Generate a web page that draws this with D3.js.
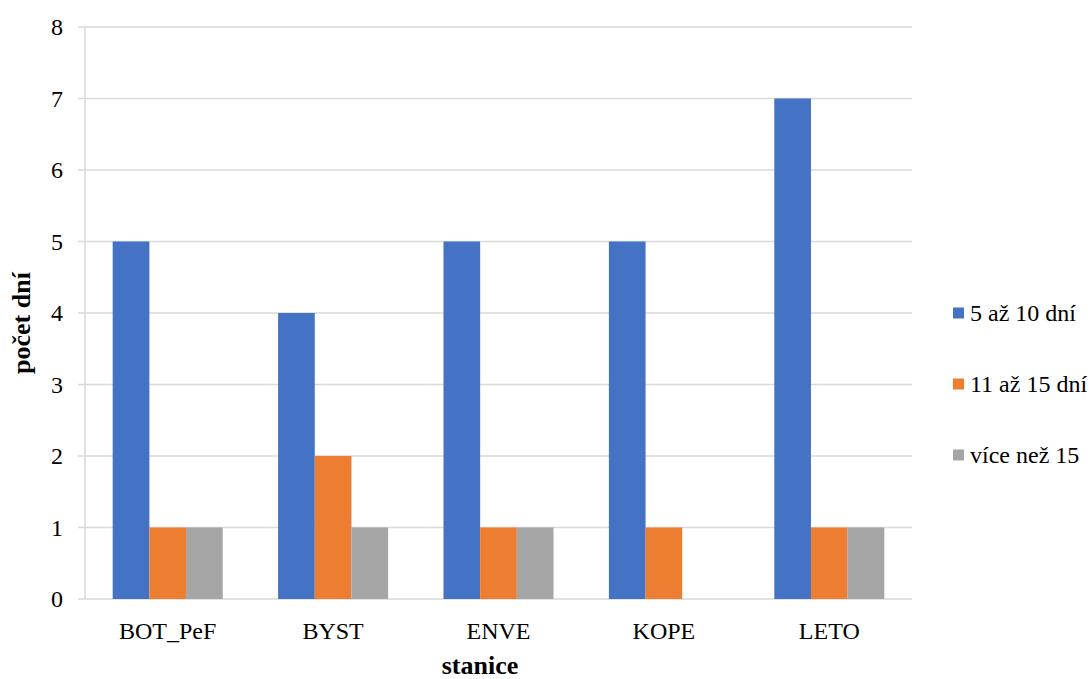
<!DOCTYPE html>
<html><head><meta charset="utf-8">
<script src="https://cdn.jsdelivr.net/npm/d3@7"></script>
<style>body{margin:0;background:#fff} svg text{font-family:"Liberation Serif","Times New Roman",Tinos,"DejaVu Serif",serif;}</style>
</head><body>
<svg id="c" width="1092" height="679"></svg>
<script>
const categories = ["BOT_PeF","BYST","ENVE","KOPE","LETO"];
const seriesNames = ["5 až 10 dní","11 až 15 dní","více než 15"];
const s1 = [5,4,5,5,7];
const s2 = [1,2,1,1,1];
const s3 = [1,1,1,0,1];
const colors = ["#4472C4","#ED7D31","#A5A5A5"];
const yTicks = [0,1,2,3,4,5,6,7,8];

const svg = d3.select("#c");
const L=85, R=912, T=27, B=599;
const x = d3.scaleBand().domain(categories).range([L,R]);
const y = d3.scaleLinear().domain([0,8]).range([B,T]);
const inner = d3.scaleBand().domain(seriesNames).range([0, x.bandwidth()]).paddingInner(0).paddingOuter(0.755);

svg.append("g").selectAll("line").data(yTicks).join("line")
  .attr("x1",L-7).attr("x2",R).attr("y1",d=>y(d)).attr("y2",d=>y(d))
  .attr("stroke","#d9d9d9").attr("stroke-width",1.5);
svg.append("line").attr("x1",L).attr("x2",L).attr("y1",T).attr("y2",B).attr("stroke","#d9d9d9").attr("stroke-width",1.5);

const series=[s1,s2,s3];
series.forEach((s,i)=>{
  svg.append("g").selectAll("rect").data(categories).join("rect")
    .attr("x",c=>x(c)+inner(seriesNames[i]))
    .attr("width",inner.bandwidth())
    .attr("y",(c,j)=>y(s[j]))
    .attr("height",(c,j)=>y(0)-y(s[j]))
    .attr("fill",colors[i]);
});

svg.append("g").selectAll("text").data(yTicks).join("text")
  .attr("x",L-22).attr("y",d=>y(d)).attr("dy","0.35em").attr("text-anchor","end")
  .attr("font-size",24).attr("fill","#000").text(d=>d);
svg.append("g").selectAll("text").data(categories).join("text")
  .attr("x",c=>x(c)+x.bandwidth()/2).attr("y",639).attr("text-anchor","middle")
  .attr("font-size",24).attr("fill","#000").text(d=>d);

svg.append("text").attr("x",480).attr("y",674).attr("text-anchor","middle")
  .attr("font-size",26).attr("font-weight","bold").text("stanice");
svg.append("text").attr("transform","translate(30,323) rotate(-90)").attr("text-anchor","middle")
  .attr("font-size",26).attr("font-weight","bold").text("počet dní");

const lg = svg.append("g");
seriesNames.forEach((n,i)=>{
  const yy = 313 + i*71;
  lg.append("rect").attr("x",953).attr("y",yy-5.5).attr("width",11).attr("height",11).attr("fill",colors[i]);
  lg.append("text").attr("x",970).attr("y",yy).attr("dy","0.35em").attr("font-size",24).text(n);
});
</script>
</body></html>
